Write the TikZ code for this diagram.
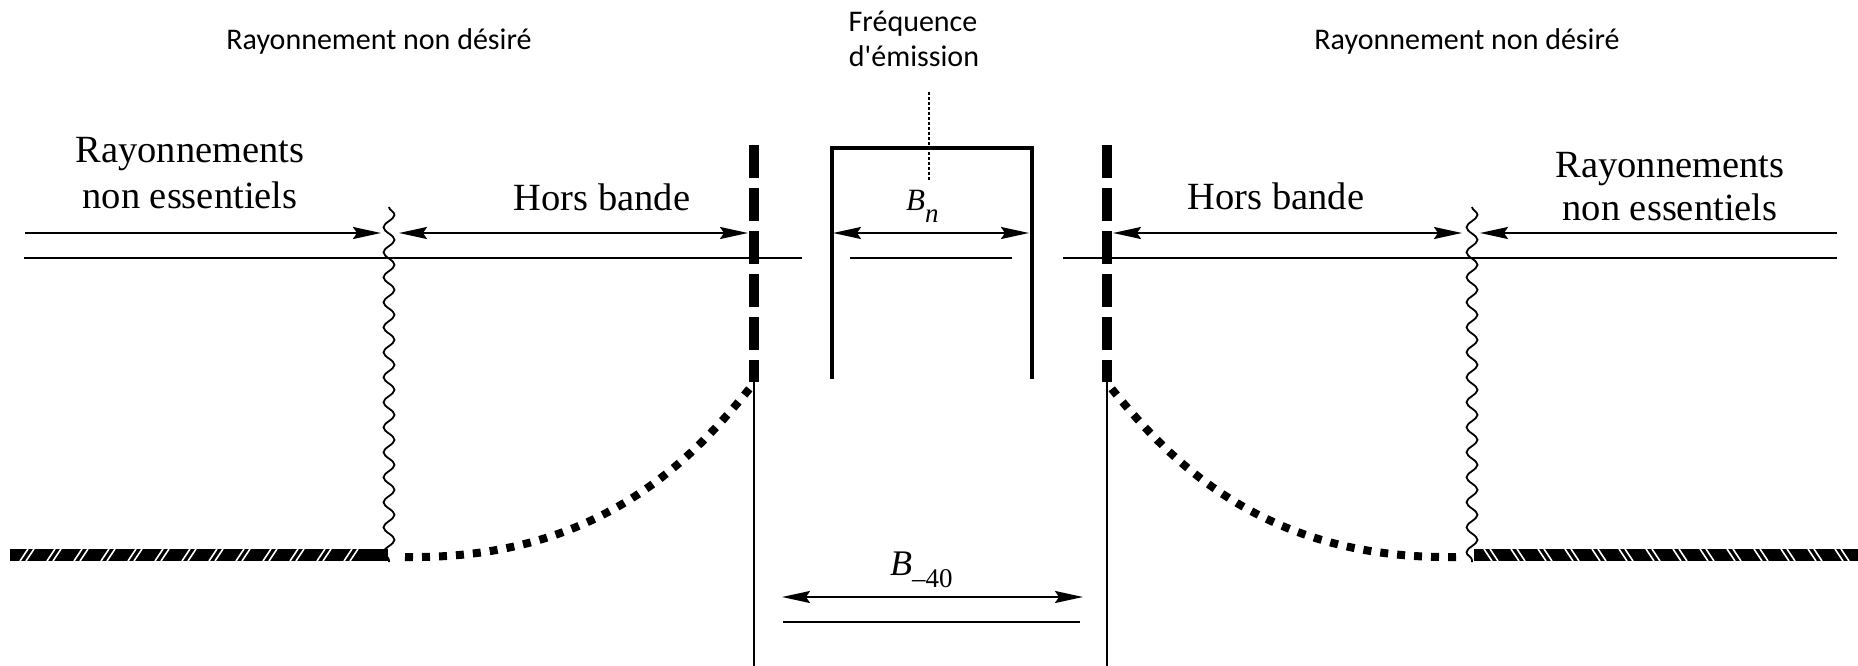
\documentclass[tikz,border=0pt]{standalone}
\usepackage{fontspec}
\setmainfont{Liberation Serif}
\newfontfamily\calfont{Carlito}
\usetikzlibrary{arrows.meta,decorations.pathmorphing}
\begin{document}
\begin{tikzpicture}[x=1pt,y=-1pt,
  thinline/.style={line width=2pt},
  tipA/.tip={Stealth[length=28pt,width=12pt,inset=4pt]},
  arr/.style={line width=2pt,-tipA},
  darr/.style={line width=2pt,tipA-tipA},
  wavy/.style={line width=1.8pt,decorate,decoration={snake,segment length=25pt,amplitude=5.5pt}},
  maskline/.style={line width=10pt,dash pattern=on 33pt off 10pt},
  boxline/.style={line width=4pt},
  dotcurve/.style={line width=8pt,dash pattern=on 8pt off 9pt},
  hatchband/.style={line width=12pt},
  hatchslash/.style={white,line width=1.6pt},
  fine/.style={line width=1.4pt,dash pattern=on 3pt off 2pt},
  serif/.style={font=\fontsize{38.5}{44}\selectfont,inner sep=0pt,anchor=base},
  calib/.style={font=\calfont\fontsize{30}{35}\selectfont,inner sep=0pt,anchor=base},
]
\useasboundingbox (0,0) rectangle (1858,666);

% coordinates
\coordinate (hlA) at (24,258);   \coordinate (hlB) at (802,258);
\coordinate (hmA) at (850,258);  \coordinate (hmB) at (1012,258);
\coordinate (hrA) at (1063,258); \coordinate (hrB) at (1837,258);
\coordinate (wLt) at (389,207);  \coordinate (wLb) at (389,562);
\coordinate (wRt) at (1472,207); \coordinate (wRb) at (1472,562);
\coordinate (mLt) at (754,145);  \coordinate (mLb) at (754,382);
\coordinate (mRt) at (1107,145); \coordinate (mRb) at (1107,382);
\coordinate (vLb) at (754,666);  \coordinate (vRb) at (1107,666);

% texts
\node[calib] (undL) at (379,50) {Rayonnement non désiré};
\node[calib] (undR) at (1467,50) {Rayonnement non désiré};
\node[calib] (freq1) at (913,32) {Fréquence};
\node[calib] (freq2) at (914,67) {d\textquotesingle émission};
\node[serif] (spL1) at (190,163) {Rayonnements};
\node[serif] (spL2) at (190,208) {non essentiels};
\node[serif] (spR1) at (1670,177) {Rayonnements};
\node[serif] (spR2) at (1670,220) {non essentiels};
\node[serif] (obL) at (602,210) {Hors bande};
\node[serif] (obR) at (1276,209) {Hors bande};
\node[inner sep=0pt,anchor=base west,font=\fontsize{31}{31}\selectfont] (bn) at (906,210)
  {\textit{B}\raisebox{-13pt}{\fontsize{27}{27}\selectfont\textit{n}}};
\node[inner sep=0pt,anchor=base west,font=\fontsize{36}{36}\selectfont] (b40) at (890,575)
  {\textit{B}\raisebox{-12pt}{\fontsize{27}{27}\selectfont –40}};

% horizontal reference lines
\draw[thinline] (hlA) -- (hlB);
\draw[thinline] (hmA) -- (hmB);
\draw[thinline] (hrA) -- (hrB);

% dimension arrows
\coordinate (aL0) at (25,233);   \coordinate (aL1) at (381,233);
\coordinate (oL0) at (399,233);  \coordinate (oL1) at (748,233);
\coordinate (oR0) at (1113,233); \coordinate (oR1) at (1462,233);
\coordinate (aR0) at (1837,233); \coordinate (aR1) at (1480,233);
\coordinate (bn0) at (833,233);  \coordinate (bn1) at (1029,233);
\coordinate (b0) at (782,597);   \coordinate (b1) at (1083,597);
\coordinate (bl0) at (783,622);  \coordinate (bl1) at (1080,622);
\draw[arr] (aL0) -- (aL1);
\draw[darr] (oL0) -- (oL1);
\draw[darr] (oR0) -- (oR1);
\draw[arr] (aR0) -- (aR1);
\draw[darr] (bn0) -- (bn1);
\draw[darr] (b0) -- (b1);
\draw[thinline] (bl0) -- (bl1);

% emission mask box
\coordinate (bxA) at (832,379); \coordinate (bxB) at (832,148);
\coordinate (bxC) at (1032,148); \coordinate (bxD) at (1032,379);
\draw[boxline] (bxA) -- (bxB) -- (bxC) -- (bxD);
\coordinate (fq0) at (929,92); \coordinate (fq1) at (929,180);
\draw[fine] (fq0) -- (fq1);

% thick dashed limits and thin verticals
\draw[maskline] (mLt) -- (mLb);
\draw[maskline] (mRt) -- (mRb);
\draw[line width=1.8pt] (mLb) -- (vLb);
\draw[line width=1.8pt] (mRb) -- (vRb);

% wavy boundaries
\draw[wavy] (wLt) -- (wLb);
\draw[wavy] (wRt) -- (wRb);

% hatched spurious levels
\coordinate (hbL0) at (10,555); \coordinate (hbL1) at (388,555);
\coordinate (hbR0) at (1474,555); \coordinate (hbR1) at (1858,555);
\draw[hatchband] (hbL0) -- (hbL1);
\draw[hatchband] (hbR0) -- (hbR1);
\foreach \x in {24,51,...,370} {
  \draw[hatchslash] (\x-4,561) -- (\x+4,549);
  \draw[hatchslash] (\x+2,561) -- (\x+10,549);
}
\foreach \x in {1488,1515,...,1850} {
  \draw[hatchslash] (\x-4,549) -- (\x+4,561);
  \draw[hatchslash] (\x+2,549) -- (\x+10,561);
}

% dotted out-of-band curves
\coordinate (cL0) at (405,557); \coordinate (cL1) at (750,388);
\coordinate (cR0) at (1456,557); \coordinate (cR1) at (1111,388);
\draw[dotcurve] (cL0) .. controls (600,560) and (693,458) .. (cL1);
\draw[dotcurve] (cR0) .. controls (1261,560) and (1168,458) .. (cR1);
\end{tikzpicture}
\end{document}
